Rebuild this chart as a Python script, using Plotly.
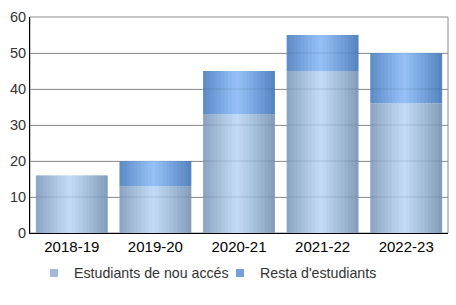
import plotly.graph_objects as go

categories = ["2018-19", "2019-20", "2020-21", "2021-22", "2022-23"]
nou_acces = [16, 13, 33, 45, 36]
resta = [0, 7, 12, 10, 14]
series_names = ["Estudiants de nou accés", "Resta d'estudiants"]
y_ticks = [0, 10, 20, 30, 40, 50, 60]

# edge / centre colours of the horizontal gradient
edge_colors = [(130, 155, 185), (84, 130, 190)]
center_colors = [(194, 218, 245), (148, 192, 247)]
N = 20
BAR_W = 0.86
OVERLAP = 0.008


def mix(a, b, t):
    return tuple(round(a[i] + (b[i] - a[i]) * t) for i in range(3))


fig = go.Figure()
bases = [[0] * len(categories), nou_acces]
values = [nou_acces, resta]
for s in range(2):
    for i in range(N):
        pos = (i + 0.5) / N
        t = abs(pos - 0.47) / 0.53
        t = min(1.0, t) ** 1.1
        c = mix(center_colors[s], edge_colors[s], t)
        w = BAR_W / N + (OVERLAP if i < N - 1 else 0)
        fig.add_trace(go.Bar(
            x=categories, y=values[s], base=bases[s],
            offset=-BAR_W / 2 + i * BAR_W / N, width=w,
            marker=dict(color="rgb(%d,%d,%d)" % c, line=dict(width=0)),
            showlegend=False, hoverinfo="skip",
        ))

for s in range(2):
    mid = mix(center_colors[s], edge_colors[s], 0.5)
    fig.add_trace(go.Scatter(
        x=[categories[0]], y=[None], name=series_names[s], mode="markers",
        marker=dict(symbol="square", size=8, color="rgb(%d,%d,%d)" % mid),
        showlegend=True, legend="legend" if s == 0 else "legend2",
    ))

fig.add_shape(type="rect", xref="paper", yref="paper", x0=0, y0=0, x1=1, y1=1,
              line=dict(color="#8a8a8a", width=1), layer="below")
# faint gridlines showing through the bars
for v in y_ticks[1:-1]:
    fig.add_shape(type="line", xref="paper", yref="y", x0=0, x1=1, y0=v, y1=v,
                  line=dict(color="rgba(20,30,50,0.13)", width=1), layer="above")

legend_common = dict(orientation="h", xref="container", xanchor="left",
                     y=-0.112, yanchor="top", bgcolor="rgba(0,0,0,0)",
                     font=dict(size=14.2, color="#333"))

fig.update_layout(
    width=456, height=305,
    margin=dict(l=30, r=8, t=17, b=72, autoexpand=False),
    barmode="overlay",
    plot_bgcolor="white", paper_bgcolor="white",
    font=dict(family="Liberation Sans, Arial, sans-serif", size=14, color="#000"),
    legend=dict(x=34 / 456, **legend_common),
    legend2=dict(x=220 / 456, **legend_common),
    xaxis=dict(showline=True, linecolor="black", linewidth=1, ticks="", showgrid=False,
               tickangle=0, automargin=False,
               tickfont=dict(size=15, color="black")),
    yaxis=dict(range=[0, 60], tickvals=y_ticks, showline=True, linecolor="black", linewidth=1,
               gridcolor="#9d9d9d", gridwidth=1, ticks="", zeroline=False,
               automargin=False,
               tickfont=dict(size=14.5, color="#333"), layer="above traces"),
)

fig.write_html("out.html")
